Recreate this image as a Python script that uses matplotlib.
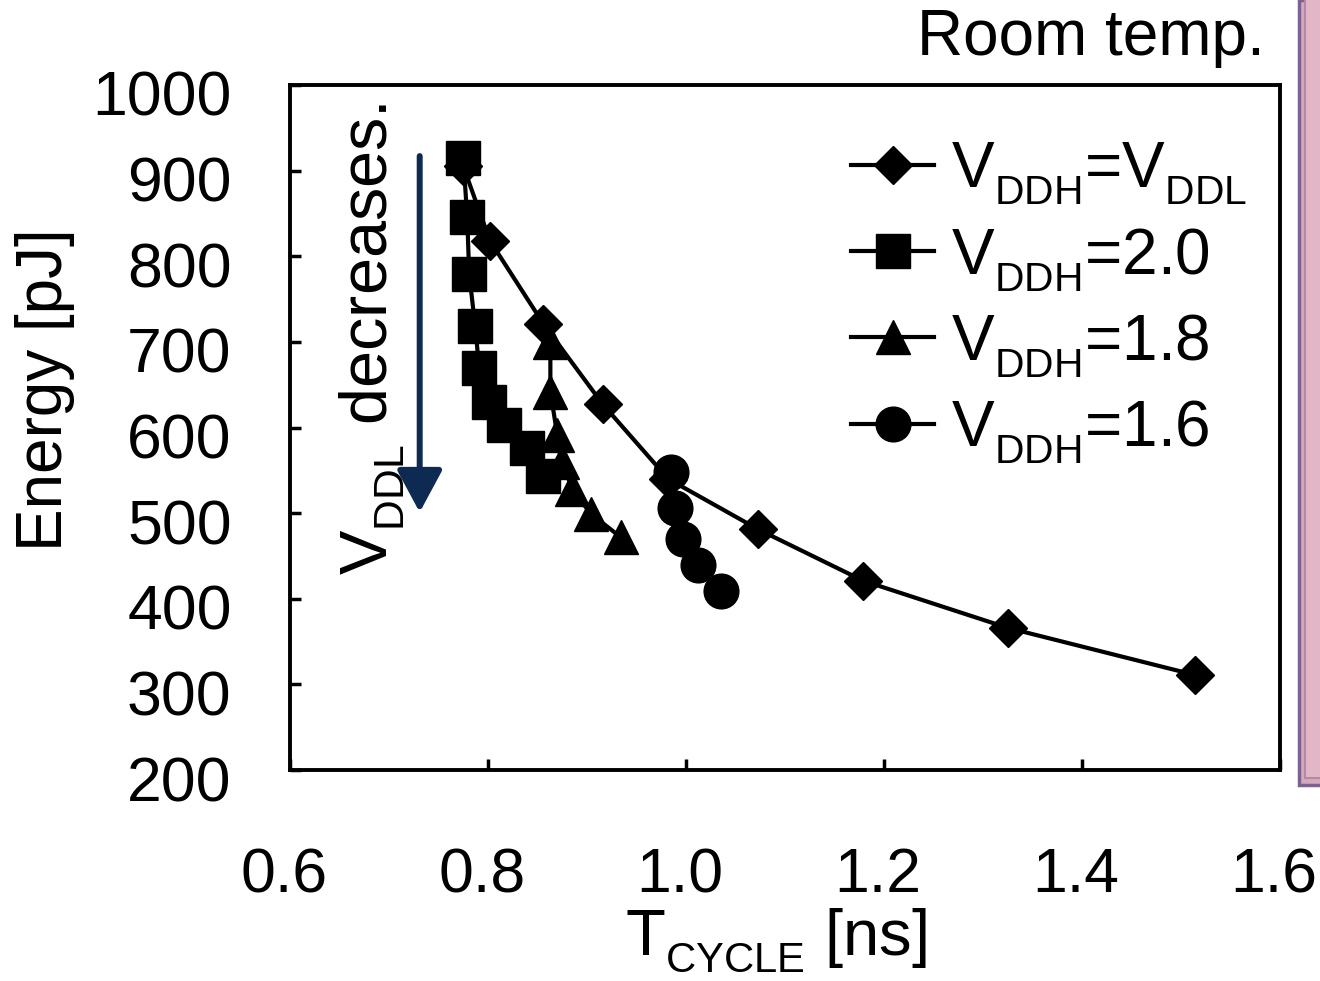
import matplotlib

matplotlib.use("Agg")
import matplotlib.pyplot as plt
import matplotlib._mathtext as mathtext
from matplotlib.patches import Rectangle
from matplotlib.transforms import ScaledTranslation

plt.rcParams["font.family"] = ["Liberation Sans", "DejaVu Sans"]
plt.rcParams["mathtext.fontset"] = "custom"
plt.rcParams["mathtext.rm"] = "Liberation Sans"
plt.rcParams["mathtext.it"] = "Liberation Sans"

# subscripts in the original are smaller and sit lower than mathtext's default
mathtext.SHRINK_FACTOR = 0.64
mathtext.FontConstantsBase.sub1 = 0.5

# V_DDH = V_DDL
t_eq = [0.775, 0.802, 0.856, 0.916, 0.982, 1.073, 1.179, 1.325, 1.514]
e_eq = [905, 818, 721, 627, 540, 481, 421, 366, 311]

# V_DDH = 2.0
t_20 = [0.775, 0.779, 0.781, 0.787, 0.791, 0.801, 0.816, 0.839, 0.856]
e_20 = [915, 846, 779, 719, 670, 630, 603, 576, 543]

# V_DDH = 1.8
t_18 = [0.863, 0.863, 0.870, 0.875, 0.885, 0.904, 0.934]
e_18 = [700, 642, 591, 560, 528, 499, 472]

# V_DDH = 1.6
t_16 = [0.985, 0.989, 0.997, 1.012, 1.035]
e_16 = [548, 506, 470, 440, 409]

labels = [
    r"V$_\mathregular{DDH}$=V$_\mathregular{DDL}$",
    r"V$_\mathregular{DDH}$=2.0",
    r"V$_\mathregular{DDH}$=1.8",
    r"V$_\mathregular{DDH}$=1.6",
]

fig = plt.figure(figsize=(13.2, 9.81), dpi=100)
ax = fig.add_axes([290 / 1320, 1 - 770 / 981, 990 / 1320, 685 / 981])

# pinkish strip at the right edge (part of the original slide photo)
fig.patches.append(Rectangle((1299 / 1320, 1 - 785 / 981), 30 / 1320, 785 / 981,
                             transform=fig.transFigure, facecolor="#d6a9bd",
                             edgecolor="#7d6290", linewidth=2.5))
fig.patches.append(Rectangle((1305 / 1320, 1 - 778 / 981), 30 / 1320, 790 / 981,
                             transform=fig.transFigure, facecolor="#e2b6c6",
                             edgecolor="#b08aa8", linewidth=1.5))

lw = 3
ax.plot(t_eq, e_eq, "-D", color="black", lw=lw, ms=19, label=labels[0], zorder=3)
ax.plot(t_20, e_20, "-s", color="black", lw=lw, ms=25, label=labels[1], zorder=4)
ax.plot(t_18, e_18, "-^", color="black", lw=lw, ms=25, label=labels[2], zorder=4)
ax.plot(t_16, e_16, "-o", color="black", lw=lw, ms=25, label=labels[3], zorder=4)

ax.set_xlim(0.6, 1.6)
ax.set_ylim(200, 1000)
ax.set_xticks([0.6, 0.8, 1.0, 1.2, 1.4, 1.6])
ax.set_xticklabels(["0.6", "0.8", "1.0", "1.2", "1.4", "1.6"])
ax.set_yticks(range(200, 1001, 100))
ax.tick_params(axis="both", direction="in", length=8, width=2.5, labelsize=45)
ax.tick_params(axis="x", pad=55)
ax.tick_params(axis="y", pad=42)
for s in ax.spines.values():
    s.set_linewidth(2.8)

# tick labels in the original sit a little left of / below their ticks
for lab in ax.get_xticklabels():
    lab.set_transform(lab.get_transform() + ScaledTranslation(-6 / 100, 0, fig.dpi_scale_trans))
for lab in ax.get_yticklabels():
    lab.set_transform(lab.get_transform() + ScaledTranslation(0, -8 / 100, fig.dpi_scale_trans))

ax.legend(loc="upper right", bbox_to_anchor=(1.006, 0.975), frameon=False,
          fontsize=46, handlelength=1.3, handletextpad=0.27, labelspacing=0.3,
          borderaxespad=0.2)

ax.annotate("", xy=(0.731, 501), xytext=(0.731, 917),
            arrowprops=dict(arrowstyle="-|>,head_length=1.3,head_width=0.7",
                            mutation_scale=20, color="#0d2a52", lw=4.3,
                            shrinkA=0, shrinkB=0))
ax.text(0.683, 428, r"V$_\mathregular{DDL}$ decreases.", rotation=90,
        ha="center", va="bottom", fontsize=48)

fig.text(45 / 1320, 1 - 390 / 981, "Energy [pJ]", rotation=90,
         ha="center", va="center", fontsize=46)
fig.text(776 / 1320, 1 - 940 / 981, r"T$_\mathregular{CYCLE}$ [ns]",
         ha="center", va="center", fontsize=47)
fig.text(1265 / 1320, 1 - 38 / 981, "Room temp.", ha="right", va="center",
         fontsize=46)

fig.savefig("out.png", dpi=100)
